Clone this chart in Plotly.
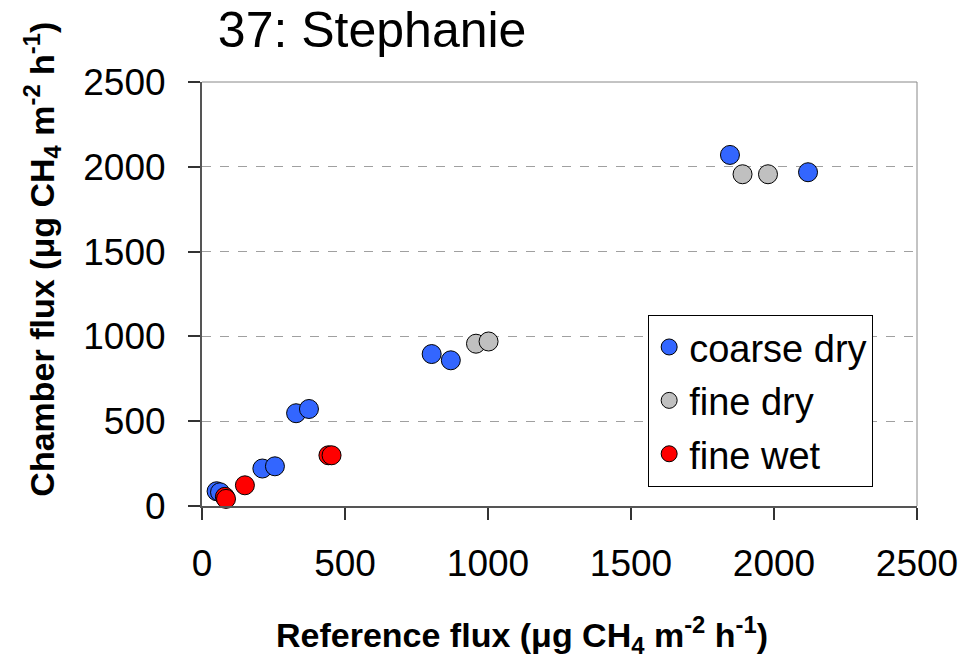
import plotly.graph_objects as go

# values
coarse_dry_x = [51, 63, 211, 255, 329, 374, 803, 870, 1846, 2119]
coarse_dry_y = [87, 81, 221, 234, 547, 572, 896, 859, 2070, 1968]

fine_dry_x = [958, 1002, 1890, 1979]
fine_dry_y = [957, 970, 1956, 1956]

fine_wet_x = [80, 84, 150, 442, 453]
fine_wet_y = [54, 42, 122, 299, 299]

tick_vals = [0, 500, 1000, 1500, 2000, 2500]

FONT = "Liberation Sans, Arial, sans-serif"
MARKER_SIZE = 19

series = [
    ("coarse dry", coarse_dry_x, coarse_dry_y, "#3366FF"),
    ("fine dry", fine_dry_x, fine_dry_y, "#C0C0C0"),
    ("fine wet", fine_wet_x, fine_wet_y, "#FF0000"),
]

fig = go.Figure()
for name, xs, ys, color in series:
    fig.add_trace(go.Scatter(
        x=xs, y=ys, mode="markers", name=name, legendgroup=name,
        cliponaxis=False,
        marker=dict(size=MARKER_SIZE, color=color, line=dict(color="black", width=1)),
    ))

axis_common = dict(
    range=[0, 2500], tickvals=tick_vals, ticks="outside", ticklen=12,
    tickcolor="#333333", tickwidth=2, showline=True, linecolor="#555555",
    linewidth=2, zeroline=False, tickfont=dict(size=37, color="black", family=FONT),
)

fig.update_xaxes(showgrid=False, ticklabelstandoff=12, **axis_common)
fig.update_yaxes(showgrid=True, gridcolor="#A0A0A0", griddash="dash", gridwidth=1,
                 ticksuffix="\u00a0\u00a0", ticklabelstandoff=15, **axis_common)

# lighter top and right frame lines
fig.add_shape(type="line", xref="paper", yref="paper", x0=0, x1=1, y0=1, y1=1,
              line=dict(color="#888888", width=1))
fig.add_shape(type="line", xref="paper", yref="paper", x0=1, x1=1, y0=0, y1=1,
              line=dict(color="#888888", width=1))

fig.add_annotation(
    text="<b>Reference flux (μg CH<sub>4</sub> m<sup>-2</sup> h<sup>-1</sup>)</b>",
    xref="paper", yref="paper", x=0.4476, y=-0.305, showarrow=False,
    xanchor="center", yanchor="middle",
    font=dict(size=34, color="black", family=FONT),
)
fig.add_annotation(
    text="<b>Chamber flux (μg CH<sub>4</sub> m<sup>-2</sup> h<sup>-1</sup>)</b>",
    xref="paper", yref="paper", x=-0.224, y=0.583, showarrow=False, textangle=-90,
    xanchor="center", yanchor="middle",
    font=dict(size=34, color="black", family=FONT),
)

fig.update_layout(
    width=967, height=662,
    margin=dict(l=194, r=58, t=74, b=164),
    paper_bgcolor="white", plot_bgcolor="white",
    font=dict(family=FONT, color="black"),
    title=dict(text="37: Stephanie", x=0.217, xanchor="left", y=0.968, yanchor="middle",
               font=dict(size=50, color="black", family=FONT)),
    legend=dict(
        x=0.624, y=0.451, xanchor="left", yanchor="top",
        bgcolor="white", bordercolor="black", borderwidth=1,
        font=dict(size=38, color="black", family=FONT),
        tracegroupgap=1,
    ),
)

fig.write_html("out.html")
